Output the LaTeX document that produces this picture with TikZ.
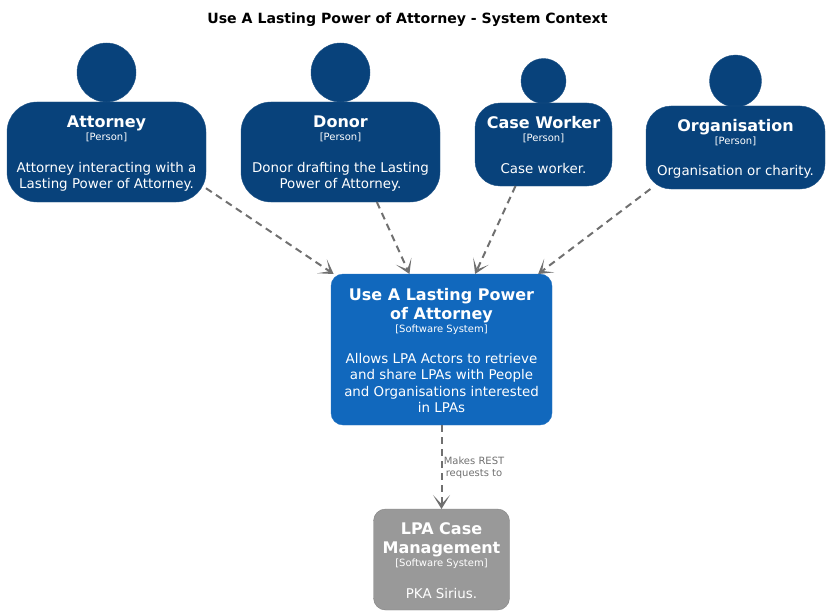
\documentclass[tikz,border=0pt]{standalone}
\usepackage{fontspec}
\setmainfont{DejaVu Sans}
\usetikzlibrary{arrows.meta}
\definecolor{personblue}{HTML}{08427B}
\definecolor{systemblue}{HTML}{1168BD}
\definecolor{extgray}{HTML}{999999}
\definecolor{linegray}{HTML}{707070}
\newcommand{\boxname}[1]{{\fontsize{16}{19}\selectfont\bfseries #1}}
\newcommand{\boxkind}[1]{{\fontsize{10}{13}\selectfont [#1]}}
\newcommand{\topgap}[1]{\rule{0pt}{#1pt}}
\tikzset{
  personbox/.style={draw=personblue!90!white, fill=personblue, rounded corners=30, inner sep=0pt, outer sep=0pt, text=white, align=center, font=\fontsize{13.4}{16.3}\selectfont},
  personhead/.style={circle, draw=personblue!90!white, fill=personblue, inner sep=0pt, outer sep=0pt},
  systembox/.style={draw=systemblue!90!white, fill=systemblue, rounded corners=12, inner sep=0pt, outer sep=0pt, text=white, align=center, font=\fontsize{13.4}{16.3}\selectfont},
  relation/.style={line width=2pt, linegray, dash pattern=on 7pt off 5pt, -{Stealth[length=14pt,width=17pt,inset=9pt]}},
}
\begin{document}
\begin{tikzpicture}[x=1pt,y=1pt]
\useasboundingbox (0,0) rectangle (829,-615);
% Title
\node[font=\fontsize{14.1}{16}\selectfont\bfseries, text=black] (title) at (407.5,-20) {Use A Lasting Power of Attorney - System Context};
% People
\node[personhead, minimum size=59] (attorneyhead) at (106.5,-72.5) {};
\node[personbox, minimum width=199, minimum height=100] (attorney) at (106.5,-152) {\topgap{15}\boxname{Attorney}\\[-3pt]\boxkind{Person}\\[15pt]Attorney interacting with a\\Lasting Power of Attorney.};
\node[personhead, minimum size=59] (donorhead) at (340.5,-72.5) {};
\node[personbox, minimum width=199, minimum height=100] (donor) at (340.5,-152) {\topgap{15}\boxname{Donor}\\[-3pt]\boxkind{Person}\\[15pt]Donor drafting the Lasting\\Power of Attorney.};
\node[personhead, minimum size=45] (workerhead) at (543.5,-81) {};
\node[personbox, minimum width=137, minimum height=83, rounded corners=25] (worker) at (543.5,-144.5) {\topgap{13}\boxname{Case Worker}\\[-3pt]\boxkind{Person}\\[15pt]Case worker.};
\node[personhead, minimum size=52] (orghead) at (735.5,-81) {};
\node[personbox, minimum width=179, minimum height=83, rounded corners=25] (org) at (735.5,-147.5) {\topgap{15}\boxname{Organisation}\\[-3pt]\boxkind{Person}\\[15pt]Organisation or charity.};
% Software systems
\node[systembox, minimum width=221, minimum height=151] (system) at (441.5,-349.5) {\topgap{14}\boxname{Use A Lasting Power}\\[2.7pt]\boxname{of Attorney}\\[-3pt]\boxkind{Software System}\\[14.5pt]Allows LPA Actors to retrieve\\and share LPAs with People\\and Organisations interested\\in LPAs};
\node[systembox, draw=extgray!85!black, fill=extgray, minimum width=136, minimum height=101] (sirius) at (441.5,-559.5) {\topgap{14}\boxname{LPA Case}\\[2.7pt]\boxname{Management}\\[-3pt]\boxkind{Software System}\\[15pt]PKA Sirius.};
% Relations
\draw[relation] (attorney.-20.9) -- (system.145.2);
\draw[relation] (donor.-54.6) -- (system.113.3);
\draw[relation] (worker.-124.5) -- (system.66.1);
\draw[relation] (org.-154.4) -- (system.38);
\draw[relation] (system) -- (sirius);
\node[font=\fontsize{10}{11.5}\selectfont, text=linegray, align=center] (restlabel) at (474,-467.5) {Makes REST\\requests to};
\end{tikzpicture}
\end{document}
